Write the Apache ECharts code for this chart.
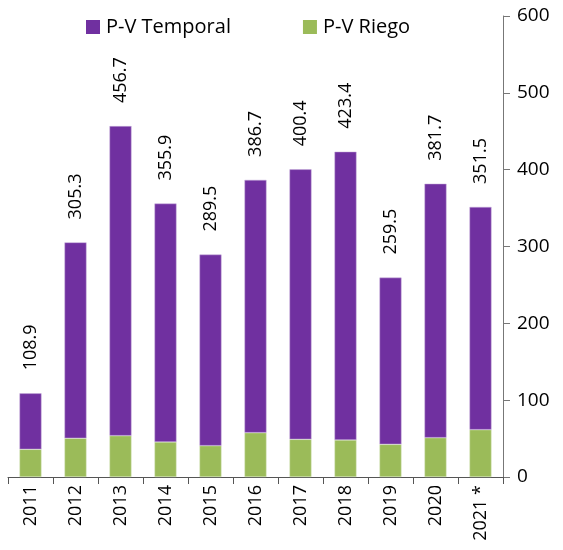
<!DOCTYPE html>
<html>
<head>
<meta charset="utf-8">
<script src="https://cdn.jsdelivr.net/npm/echarts@6/dist/echarts.min.js"></script>
<style>
  html, body { margin: 0; padding: 0; background: #fff; }
  #chart { width: 563px; height: 550px; }
</style>
</head>
<body>
<div id="chart"></div>
<script>
const years = ['2011', '2012', '2013', '2014', '2015', '2016', '2017', '2018', '2019', '2020', '2021 *'];
const totals = [108.9, 305.3, 456.7, 355.9, 289.5, 386.7, 400.4, 423.4, 259.5, 381.7, 351.5];
const riego = [36, 50.4, 53.8, 45.6, 40.8, 57.7, 49, 48.2, 42.5, 51.2, 61.6];
const temporal = totals.map((t, i) => +(t - riego[i]).toFixed(1));

const font = 'Open Sans';

document.addEventListener('DOMContentLoaded', () => {
    const chart = echarts.init(document.getElementById('chart'));

    const option = {
        animation: false,
        textStyle: { fontFamily: font },
        legend: {
            top: 12,
            left: 81,
            icon: 'rect',
            itemWidth: 14,
            itemHeight: 14,
            itemGap: 72,
            itemStyle: { borderWidth: 0 },
            textStyle: { fontSize: 20, color: '#000', fontFamily: font, padding: [0, 0, 0, 1] },
            data: ['P-V Temporal', 'P-V Riego']
        },
        grid: { left: 8, right: 60, top: 16, bottom: 73 },
        xAxis: {
            type: 'category',
            data: years,
            axisLine: { lineStyle: { color: '#555', width: 1 } },
            axisTick: { show: true, length: 7, lineStyle: { color: '#555' } },
            axisLabel: {
                rotate: 90,
                color: '#000',
                fontSize: 18,
                fontFamily: font,
                margin: 8,
                interval: 0
            }
        },
        yAxis: {
            type: 'value',
            position: 'right',
            min: 0,
            max: 600,
            interval: 100,
            splitLine: { show: false },
            axisLine: { show: true, lineStyle: { color: '#777' } },
            axisTick: { show: true, length: 7, lineStyle: { color: '#777' } },
            axisLabel: { color: '#000', fontSize: 19, fontFamily: font, margin: 14 }
        },
        series: [
            {
                name: 'P-V Riego',
                type: 'bar',
                stack: 'total',
                barWidth: 22,
                data: riego,
                itemStyle: { color: '#9BBB59', borderColor: '#d9e6c0', borderWidth: 0.5 }
            },
            {
                name: 'P-V Temporal',
                type: 'bar',
                stack: 'total',
                barWidth: 22,
                data: temporal,
                itemStyle: { color: '#7030A0', borderColor: '#c9b0dc', borderWidth: 0.5 },
                label: {
                    show: true,
                    position: 'top',
                    rotate: 90,
                    align: 'left',
                    verticalAlign: 'middle',
                    distance: 23,
                    color: '#000',
                    fontSize: 18,
                    fontFamily: font,
                    formatter: (p) => totals[p.dataIndex].toFixed(1)
                }
            }
        ]
    };

    chart.setOption(option);
});
</script>
</body>
</html>
